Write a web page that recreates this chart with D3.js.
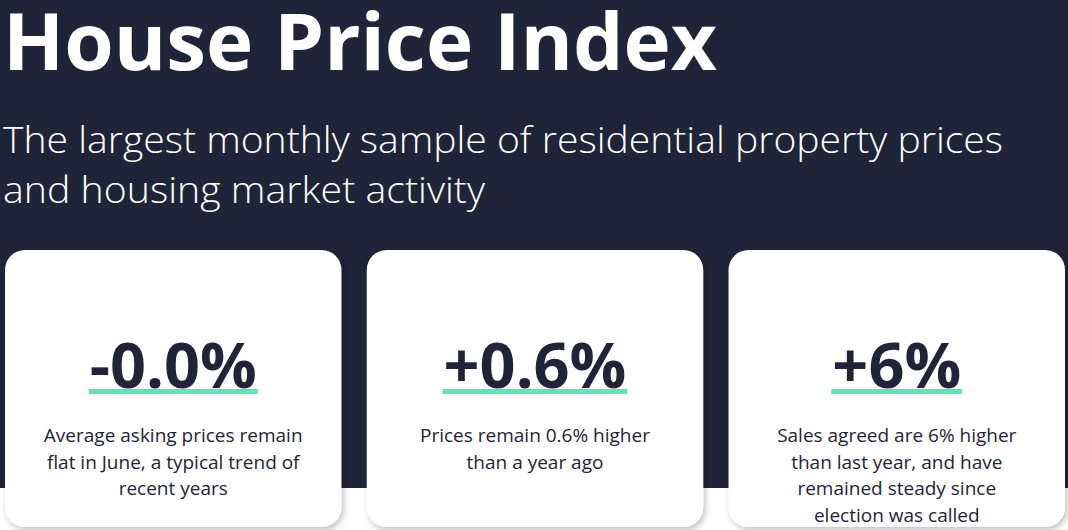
<!DOCTYPE html>
<html><head><meta charset="utf-8">
<script src="https://cdn.jsdelivr.net/npm/d3@7"></script>
<style>body{margin:0;overflow:hidden;background:#fff}</style>
</head><body><div id="app"></div>
<script>
const title = "House Price Index";
const subtitle = ["The largest monthly sample of residential property prices", "and housing market activity"];
const subtitleWidths = [1000, 482];
const figures = ["-0.0%", "+0.6%", "+6%"];
const notes = [
  ["Average asking prices  remain", "flat in June, a typical trend of", "recent years"],
  ["Prices remain 0.6% higher", "than a year ago"],
  ["Sales agreed are 6% higher", "than last year, and have", "remained steady since", "election was called"]
];

const W = 1068, H = 530;
const svg = d3.select("#app").append("svg").attr("width", W).attr("height", H);

const defs = svg.append("defs");
const f = defs.append("filter").attr("id", "sh").attr("x", "-10%").attr("y", "-10%").attr("width", "120%").attr("height", "130%");
f.append("feDropShadow").attr("dx", 2).attr("dy", 3).attr("stdDeviation", 3).attr("flood-color", "#000").attr("flood-opacity", 0.25);

svg.append("rect").attr("width", W).attr("height", 488).attr("fill", "#1f2438");

svg.append("text").attr("x", 3).attr("y", 70)
  .attr("font-family", "Open Sans").attr("font-weight", 700).attr("font-size", 78)
  .attr("fill", "#fff").attr("textLength", 714).attr("lengthAdjust", "spacingAndGlyphs")
  .text(title);

svg.selectAll(".sub").data(subtitle).enter().append("text")
  .attr("x", 3).attr("y", (d, i) => 153 + i * 50)
  .attr("font-family", "Open Sans").attr("font-weight", 300).attr("font-size", 37)
  .attr("textLength", (d, i) => subtitleWidths[i]).attr("lengthAdjust", "spacingAndGlyphs")
  .attr("fill", "#fff").text(d => d);

const x = d3.scaleBand().domain(d3.range(figures.length)).range([5, 1065]).paddingInner(0.07).paddingOuter(0);

const cards = svg.selectAll(".card").data(figures).enter().append("g")
  .attr("transform", (d, i) => `translate(${x(i)},250)`);

cards.append("rect").attr("width", x.bandwidth()).attr("height", 277)
  .attr("rx", 20).attr("fill", "#fff").attr("filter", "url(#sh)");

const cx = x.bandwidth() / 2;
cards.append("text").attr("x", cx).attr("y", 138).attr("text-anchor", "middle")
  .attr("font-family", "Open Sans").attr("font-weight", 700).attr("font-size", 63)
  .attr("fill", "#1f2438").text(d => d)
  .each(function () {
    const b = this.getBBox();
    d3.select(this.parentNode).append("rect")
      .attr("x", b.x - 1).attr("y", 139).attr("width", b.width + 2).attr("height", 5)
      .attr("fill", "#6fdcb5");
  });

cards.each(function (d, i) {
  d3.select(this).selectAll(".n").data(notes[i]).enter().append("text")
    .attr("x", cx).attr("y", (t, j) => 192 + j * 26.5).attr("text-anchor", "middle")
    .attr("font-family", "Open Sans").attr("font-size", 19).attr("fill", "#1f2438")
    .text(t => t);
});
</script></body></html>
